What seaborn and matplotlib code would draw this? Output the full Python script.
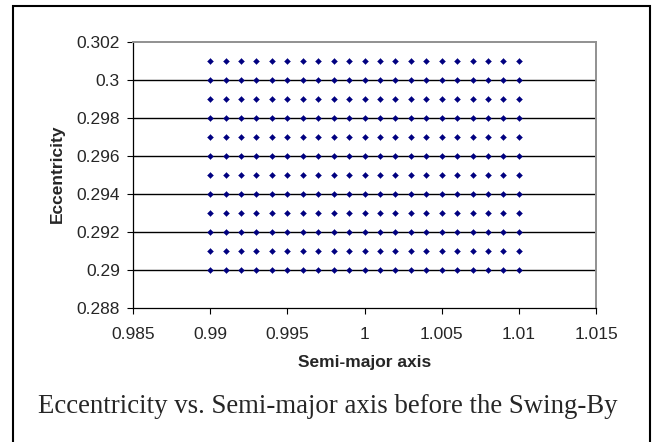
import numpy as np
import pandas as pd
import matplotlib
matplotlib.use("Agg")
import matplotlib.pyplot as plt
import seaborn as sns
from matplotlib.patches import Rectangle

# Data: a grid of semi-major axis x eccentricity values
semi_major = [0.990, 0.991, 0.992, 0.993, 0.994, 0.995, 0.996, 0.997, 0.998, 0.999, 1.000,
              1.001, 1.002, 1.003, 1.004, 1.005, 1.006, 1.007, 1.008, 1.009, 1.010]
eccentricity = [0.290, 0.291, 0.292, 0.293, 0.294, 0.295, 0.296, 0.297, 0.298, 0.299, 0.300, 0.301]
x_ticks = [0.985, 0.99, 0.995, 1.0, 1.005, 1.01, 1.015]
x_tick_labels = ["0.985", "0.99", "0.995", "1", "1.005", "1.01", "1.015"]
y_ticks = [0.288, 0.290, 0.292, 0.294, 0.296, 0.298, 0.300, 0.302]
y_tick_labels = ["0.288", "0.29", "0.292", "0.294", "0.296", "0.298", "0.3", "0.302"]

rows = [(a, e) for e in eccentricity for a in semi_major]
df = pd.DataFrame(rows, columns=["Semi-major axis", "Eccentricity"])

sns.set_style("white")
plt.rcParams['font.family'] = ['Liberation Sans', 'DejaVu Sans']

W, H = 655, 442
L, R, T, B = 133, 596, 42, 308
fig = plt.figure(figsize=(W/100, H/100), dpi=100)
ax = fig.add_axes([L/W, 1 - B/H, (R-L)/W, (B-T)/H])

for yt in y_ticks[1:-1]:
    ax.axhline(yt, color="black", linewidth=1.0, zorder=1)

sns.scatterplot(data=df, x="Semi-major axis", y="Eccentricity", ax=ax,
                marker="D", s=9, color="#000080", edgecolor="#000080",
                linewidth=0.3, zorder=3)

ax.set_xlim(0.985, 1.015)
ax.set_ylim(0.288, 0.302)
ax.set_xticks(x_ticks)
ax.set_xticklabels(x_tick_labels, fontsize=12.5)
ax.set_yticks(y_ticks)
ax.set_yticklabels(y_tick_labels, fontsize=12.5)
ax.tick_params(axis="both", direction="out", length=4.5, width=0.8, color="black",
               bottom=True, left=True)
ax.tick_params(axis="y", pad=5)
ax.tick_params(axis="x", pad=9)

ax.set_xlabel("Semi-major axis", fontsize=12.5, fontweight="bold", va="center")
ax.xaxis.set_label_coords((364.5 - L)/(R - L), (B - 362)/(B - T))
ax.set_ylabel("Eccentricity", fontsize=12.5, fontweight="bold", va="center")
ax.yaxis.set_label_coords((57 - L)/(R - L), (B - 174)/(B - T))

for side in ["left", "bottom"]:
    ax.spines[side].set_color("black")
    ax.spines[side].set_linewidth(0.9)
for side in ["right", "top"]:
    ax.spines[side].set_color("#909090")
    ax.spines[side].set_linewidth(1.4)
ax.grid(False)

fig.text(328/W, 1 - 413/H, "Eccentricity vs. Semi-major axis before the Swing-By",
         ha="center", va="baseline", fontsize=19.3,
         family=["Liberation Serif", "DejaVu Serif"])

frame = Rectangle((12.5/W, -0.05), (650-12.5)/W, 1.05 - 6/H,
                  transform=fig.transFigure, fill=False, edgecolor="black",
                  linewidth=1.5, clip_on=False)
fig.patches.append(frame)

fig.savefig("out.png", dpi=100)
